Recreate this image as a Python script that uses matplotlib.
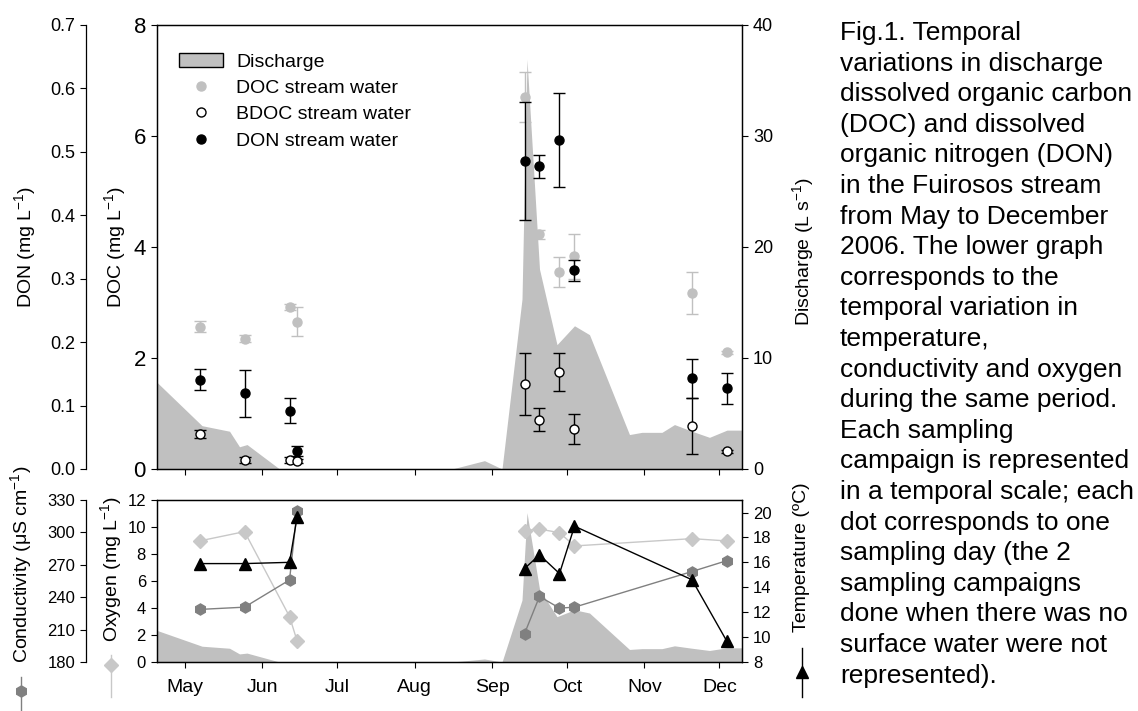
import matplotlib.pyplot as plt
from matplotlib.lines import Line2D
from matplotlib.patches import Patch

plt.rcParams['font.family'] = ['Liberation Sans', 'DejaVu Sans']
plt.rcParams['mathtext.fontset'] = 'custom'
plt.rcParams['mathtext.rm'] = 'Liberation Sans'
plt.rcParams['mathtext.it'] = 'Liberation Sans:italic'
plt.rcParams['axes.linewidth'] = 0.9

# x axis in day of year 2006
month_days = [121, 152, 182, 213, 244, 274, 305, 335]
month_names = ['May', 'Jun', 'Jul', 'Aug', 'Sep', 'Oct', 'Nov', 'Dec']

# discharge (L s-1)
q_days = [110, 128, 139, 143, 146, 159, 228, 241, 248, 256, 258, 263, 270,
          277, 283, 299, 304, 312, 317, 324, 331, 338, 344]
q_vals = [7.8, 3.9, 3.4, 2.0, 2.2, 0, 0, 0.75, 0, 15.3, 36.9, 18.0, 11.2,
          12.9, 12.1, 3.1, 3.3, 3.3, 4.0, 3.4, 2.85, 3.5, 3.5]

# sampling days
sample_days = [127, 145, 163, 166, 257, 263, 271, 277, 324, 338]

doc = [2.56, 2.35, 2.92, 2.65, 6.71, 4.23, 3.55, 3.83, 3.17, 2.10]
doc_err = [0.10, 0.07, 0.06, 0.26, 0.45, 0.08, 0.27, 0.41, 0.38, 0.03]
bdoc = [0.63, 0.16, 0.16, 0.14, 1.53, 0.89, 1.75, 0.72, 0.77, 0.32]
bdoc_err = [0.08, 0.05, 0.05, 0.04, 0.56, 0.20, 0.34, 0.27, 0.50, 0.03]
don = [0.141, 0.119, 0.092, 0.029, 0.485, 0.477, 0.518, 0.313, 0.143, 0.127]
don_err = [0.016, 0.037, 0.020, 0.008, 0.093, 0.018, 0.074, 0.017, 0.031, 0.024]

oxygen = [8.97, 9.66, 3.37, 1.58, 9.73, 9.85, 9.58, 8.60, 9.14, 8.97]
cond = [228.7, 230.8, 256.0, 319.8, 206.2, 240.7, 229.9, 230.8, 263.8, 273.9]
temp = [15.9, 15.9, 16.0, 19.6, 15.5, 16.6, 15.1, 18.9, 14.6, 9.65]

# two sampling periods (no surface water in between)
groups = [slice(0, 4), slice(4, 10)]

GRAY = '#c0c0c0'
XLIM = (110, 344)
OUT = 51  # outward offset of the extra left spine (pt)

fig = plt.figure(figsize=(11.38, 7.11), dpi=100)

# ---------------- upper panel ----------------
ax = fig.add_axes([0.138, 0.3404, 0.514, 0.6245])
axq = ax.twinx()
axn = ax.twinx()
axq.set_zorder(1)
ax.set_zorder(2)
axn.set_zorder(3)
ax.patch.set_visible(False)
axn.patch.set_visible(False)

axq.fill_between(q_days, q_vals, 0, color=GRAY, lw=0)
axq.set_ylim(0, 40)
axq.set_yticks([0, 10, 20, 30, 40])
axq.tick_params(axis='y', labelsize=13, direction='out', length=4.5)

ax.errorbar(sample_days, doc, yerr=doc_err, fmt='o', color=GRAY, mec=GRAY,
            ms=6.5, capsize=4.5, elinewidth=1, capthick=1)
ax.errorbar(sample_days, bdoc, yerr=bdoc_err, fmt='o', mfc='white', mec='black',
            ecolor='black', ms=6.5, mew=1, capsize=4.5, elinewidth=1, capthick=1)
ax.set_ylim(0, 8)
ax.set_yticks([0, 2, 4, 6, 8])
ax.tick_params(axis='y', labelsize=16, direction='out', length=4.5)

axn.errorbar(sample_days, don, yerr=don_err, fmt='o', color='black',
             ms=6.5, capsize=4.5, elinewidth=1, capthick=1)
axn.set_ylim(0, 0.7)
axn.set_yticks([0, 0.1, 0.2, 0.3, 0.4, 0.5, 0.6, 0.7])
axn.set_yticklabels(['%.1f' % v for v in axn.get_yticks()])
axn.yaxis.tick_left()
axn.spines['left'].set_position(('outward', OUT))
for s in ['top', 'right', 'bottom']:
    axn.spines[s].set_visible(False)
axn.tick_params(axis='y', labelsize=13, direction='out', length=4.5)

ax.set_xlim(*XLIM)
ax.set_xticks(month_days)
ax.set_xticklabels([])
ax.tick_params(axis='x', direction='out', length=4.5)

handles = [
    Patch(facecolor=GRAY, edgecolor='black', lw=1),
    Line2D([], [], ls='none', marker='o', color=GRAY, ms=6.5),
    Line2D([], [], ls='none', marker='o', mfc='white', mec='black', ms=6.5),
    Line2D([], [], ls='none', marker='o', color='black', ms=6.5),
]
labels = ['Discharge', 'DOC stream water', 'BDOC stream water', 'DON stream water']
axn.legend(handles, labels, loc='upper left', bbox_to_anchor=(0.037, 0.937),
           frameon=False, fontsize=14, handlelength=2.3, handleheight=0.7,
           handletextpad=0.65, labelspacing=0.45, borderpad=0, borderaxespad=0)

fig.text(25 / 1138, 1 - 247 / 711, r'DON (mg L$^{\mathregular{-1}}$)',
         rotation=90, ha='center', va='center', fontsize=14)
fig.text(115 / 1138, 1 - 247 / 711, r'DOC (mg L$^{\mathregular{-1}}$)',
         rotation=90, ha='center', va='center', fontsize=14)
fig.text(803 / 1138, 1 - 251 / 711, r'Discharge (L s$^{\mathregular{-1}}$)',
         rotation=90, ha='center', va='center', fontsize=14)

# ---------------- lower panel ----------------
bx = fig.add_axes([0.138, 0.0689, 0.514, 0.2278])
bq = bx.twinx()
bc = bx.twinx()
bt = bx.twinx()
bq.set_zorder(1)
bx.set_zorder(2)
bc.set_zorder(3)
bt.set_zorder(4)
for a in (bx, bc, bt):
    a.patch.set_visible(False)

bq.fill_between(q_days, q_vals, 0, color=GRAY, lw=0)
bq.set_ylim(0, 40)
bq.set_yticks([])
for s in bq.spines.values():
    s.set_visible(False)

for g in groups:
    bx.plot(sample_days[g], oxygen[g], color='#c8c8c8', lw=1, marker='D',
            ms=7, mec='#c8c8c8')
    bc.plot(sample_days[g], cond[g], color='#808080', lw=1, marker='h',
            ms=8, mec='#808080')
    bt.plot(sample_days[g], temp[g], color='black', lw=1, marker='^', ms=8)

bx.set_ylim(0, 12)
bx.set_yticks([0, 2, 4, 6, 8, 10, 12])
bx.tick_params(axis='y', labelsize=12, direction='out', length=4.5)

bc.set_ylim(180, 330)
bc.set_yticks([180, 210, 240, 270, 300, 330])
bc.yaxis.tick_left()
bc.spines['left'].set_position(('outward', OUT))
for s in ['top', 'right', 'bottom']:
    bc.spines[s].set_visible(False)
bc.tick_params(axis='y', labelsize=12, direction='out', length=4.5)

bt.set_ylim(8, 21)
bt.set_yticks([8, 10, 12, 14, 16, 18, 20])
bt.tick_params(axis='y', labelsize=12, direction='out', length=4.5)

bx.set_xlim(*XLIM)
bx.set_xticks(month_days)
bx.set_xticklabels(month_names, fontsize=14)
bx.tick_params(axis='x', direction='out', length=4.5, pad=8)

# axis titles with their marker keys underneath
def keyed_label(x, y_bottom, text, line_y, mark_y, **mk):
    fig.text(x / 1138, 1 - y_bottom / 711, text, rotation=90, ha='center',
             va='bottom', fontsize=14)
    fig.add_artist(Line2D([x / 1138, x / 1138], [1 - line_y[0] / 711, 1 - line_y[1] / 711],
                          transform=fig.transFigure, color=mk.get('color', 'black'), lw=1))
    fig.add_artist(Line2D([x / 1138], [1 - mark_y / 711], transform=fig.transFigure,
                          ls='none', **mk))

keyed_label(21, 663, r'Conductivity ($\mathregular{\mu}$S cm$^{\mathregular{-1}}$)',
            (677, 711), 691, marker='h', ms=8, color='#808080')
keyed_label(111, 642, r'Oxygen (mg L$^{\mathregular{-1}}$)',
            (655, 697), 665, marker='D', ms=7, color='#c8c8c8')
keyed_label(802, 632, 'Temperature (ºC)',
            (648, 697), 672, marker='^', ms=8, color='black')

# caption
caption = [
    'Fig.1. Temporal',
    'variations in discharge',
    'dissolved organic carbon',
    '(DOC) and dissolved',
    'organic nitrogen (DON)',
    'in the Fuirosos stream',
    'from May to December',
    '2006. The lower graph',
    'corresponds to the',
    'temporal variation in',
    'temperature,',
    'conductivity and oxygen',
    'during the same period.',
    'Each sampling',
    'campaign is represented',
    'in a temporal scale; each',
    'dot corresponds to one',
    'sampling day (the 2',
    'sampling campaigns',
    'done when there was no',
    'surface water were not',
    'represented).',
]
for i, line in enumerate(caption):
    fig.text(840 / 1138, 1 - (40 + i * 30.6) / 711, line, fontsize=19,
             ha='left', va='baseline')

fig.savefig('out.png', dpi=100)
